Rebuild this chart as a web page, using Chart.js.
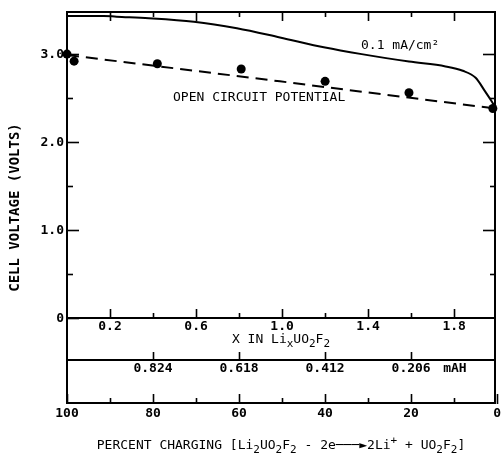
<!DOCTYPE html>
<html>
<head>
<meta charset="utf-8">
<script src="https://cdn.jsdelivr.net/npm/chart.js@4"></script>
<style>
  html, body { margin: 0; background: #fff; }
  canvas { display: block; }
</style>
</head>
<body>
<canvas id="chart" width="501" height="455"></canvas>
<script>
// Values (x in LixUO2F2, volts)
const X_LOAD = [0, 0.17, 0.23, 0.38, 0.59, 0.79, 0.99, 1.20, 1.37, 1.59, 1.76, 1.84, 1.90, 1.94, 1.975, 1.99];
const V_LOAD = [3.445, 3.445, 3.437, 3.42, 3.38, 3.305, 3.20, 3.085, 3.01, 2.925, 2.87, 2.82, 2.74, 2.60, 2.47, 2.41];
const X_OCV = [0, 0.99, 1.99];
const V_OCV = [3.00, 2.70, 2.39];
const X_PTS = [0, 0.033, 0.42, 0.81, 1.20, 1.59, 1.98];
const V_PTS = [3.01, 2.93, 2.90, 2.84, 2.70, 2.57, 2.39];

// Tick values and labels
const X_MAJOR = [0.2, 0.6, 1.0, 1.4, 1.8];
const X_MINOR = [0.4, 0.8, 1.2, 1.6];
const Y_MAJOR = [0, 1, 2, 3];
const Y_LABELS = ['0', '1.0', '2.0', '3.0'];
const Y_MINOR = [0.5, 1.5, 2.5];
const Y_RIGHT = [1, 2, 3];
const MAH_TICKS = [0.824, 0.618, 0.412, 0.206];
const PCT_MAJOR = [100, 80, 60, 40, 20, 0];
const PCT_MINOR = [90, 70, 50, 30, 10];
const MAH_FULL = 1.03;

// Axis geometry
const X_END = 1.99;
const Y_TOP = 3.49;
const Y_BOT = -0.966;
const MAH_AT = -0.481;

const INK = '#000';
const FAMILY = '"DejaVu Sans Mono", monospace';
const FONT = { family: FAMILY, size: 13, weight: 'bold' };

const X_TITLE = [['X IN Li'], ['x', 'sub'], ['UO'], ['2', 'sub'], ['F'], ['2', 'sub']];
const PCT_TITLE = [
  ['PERCENT CHARGING [Li'], ['2', 'sub'], ['UO'], ['2', 'sub'], ['F'], ['2', 'sub'],
  [' - 2e'], ['───►'], ['2Li'], ['+', 'sup'], [' + UO'], ['2', 'sub'], ['F'], ['2', 'sub'], [']'],
];

const noPad = s => { s.paddingLeft = s.paddingRight = s.paddingTop = s.paddingBottom = 0; };

// one axis = one set of tick marks (Chart.js has one tick length per axis)
function ax({ vals, len, line, pad, label, ...rest }) {
  return {
    type: 'linear',
    afterFit: noPad,
    ...rest,
    afterBuildTicks: s => { s.ticks = vals.map(v => ({ value: v })); },
    grid:   { drawOnChartArea: false, tickLength: len, tickWidth: 1.6, tickColor: INK },
    border: { display: !!line, color: INK, width: 2 },
    ticks:  {
      display: !!label, autoSkip: false, maxRotation: 0,
      color: INK, font: FONT, padding: pad || 0,
      callback: label || (v => v),
    },
  };
}

function drawRich(ctx, runs, cx, cy, size, weight) {
  const big = `${weight} ${size}px ${FAMILY}`;
  const small = `${weight} ${Math.round(size * 0.85)}px ${FAMILY}`;
  const fontOf = k => (k ? small : big);
  let w = 0;
  runs.forEach(([t, k]) => { ctx.font = fontOf(k); w += ctx.measureText(t).width; });
  let px = cx - w / 2;
  ctx.textAlign = 'left';
  runs.forEach(([t, k]) => {
    ctx.font = fontOf(k);
    const dy = k === 'sub' ? 4 : k === 'sup' ? -5 : 0;
    ctx.fillText(t, px, cy + dy);
    px += ctx.measureText(t).width;
  });
}

const figureText = {
  id: 'figureText',
  afterDraw(chart) {
    const { ctx, chartArea, scales: { x, y } } = chart;
    ctx.save();
    ctx.fillStyle = INK;
    ctx.textBaseline = 'middle';
    ctx.textAlign = 'left';
    ctx.font = `13px ${FAMILY}`;
    ctx.fillText('0.1 mA/cm²', x.getPixelForValue(1.367), y.getPixelForValue(3.109));
    ctx.fillText('OPEN CIRCUIT POTENTIAL', x.getPixelForValue(0.493), y.getPixelForValue(2.511));
    ctx.font = `bold 13px ${FAMILY}`;
    ctx.fillText('mAH', x.getPixelForValue(1.749), y.getPixelForValue(MAH_AT) + 8);
    const cx = (chartArea.left + chartArea.right) / 2;
    drawRich(ctx, X_TITLE, cx, y.getPixelForValue(0) + 21.5, 13, 'normal');
    drawRich(ctx, PCT_TITLE, cx, chartArea.bottom + 43, 13, 'normal');
    ctx.restore();
  },
};

const pts = (xs, ys) => xs.map((v, i) => ({ x: v, y: ys[i] }));

new Chart(document.getElementById('chart'), {
  type: 'scatter',
  data: {
    datasets: [
      {
        label: '0.1 mA/cm²',
        data: pts(X_LOAD, V_LOAD),
        showLine: true,
        borderColor: INK,
        borderWidth: 2,
        pointRadius: 0,
        cubicInterpolationMode: 'monotone',
        clip: false,
      },
      {
        label: 'Open circuit potential',
        data: pts(X_OCV, V_OCV),
        showLine: true,
        borderColor: INK,
        borderWidth: 2,
        borderDash: [12, 7],
        pointRadius: 0,
      },
      {
        label: 'Measured',
        data: pts(X_PTS, V_PTS),
        showLine: false,
        pointRadius: 4.5,
        pointBackgroundColor: INK,
        pointBorderWidth: 0,
        clip: false,
      },
    ],
  },
  options: {
    responsive: false,
    animation: false,
    devicePixelRatio: 1,
    layout: { padding: { left: 0, right: 6, top: 12, bottom: 52 } },
    plugins: { legend: { display: false }, tooltip: { enabled: false } },
    scales: {
      x:         ax({ axis: 'x', position: { y: 0 }, min: 0, max: X_END, vals: X_MAJOR, len: -10, line: true, pad: 11, label: v => v.toFixed(1) }),
      xMinor:    ax({ axis: 'x', position: { y: 0 }, min: 0, max: X_END, vals: X_MINOR, len: -5 }),
      xTop:      ax({ axis: 'x', position: { y: Y_TOP }, min: 0, max: X_END, vals: X_MAJOR, len: 8, line: true }),
      xTopMinor: ax({ axis: 'x', position: { y: Y_TOP }, min: 0, max: X_END, vals: X_MINOR, len: 5 }),
      mah:       ax({ axis: 'x', position: { y: MAH_AT }, min: MAH_FULL * (1 - X_END / 2), max: MAH_FULL, reverse: true, vals: MAH_TICKS, len: -9, line: true, pad: 9, label: v => v.toFixed(3) }),
      pct:       ax({ axis: 'x', position: { y: Y_BOT }, min: 100 * (1 - X_END / 2), max: 100, reverse: true, vals: PCT_MAJOR, len: -10, line: true, pad: 13, label: v => String(v) }),
      pctMinor:  ax({ axis: 'x', position: { y: Y_BOT }, min: 100 * (1 - X_END / 2), max: 100, reverse: true, vals: PCT_MINOR, len: -5 }),
      y: {
        ...ax({ axis: 'y', position: 'left', min: Y_BOT, max: Y_TOP, vals: Y_MAJOR, len: -12, line: true, pad: 15, label: (v, i) => Y_LABELS[i] }),
        afterFit: s => { noPad(s); s.width = 67; },
        title: {
          display: true,
          text: 'CELL VOLTAGE (VOLTS)',
          color: INK,
          font: { family: FAMILY, size: 14, weight: 'bold' },
          padding: { top: 7, bottom: 0 },
        },
      },
      yMinor:      ax({ axis: 'y', position: { x: 0 }, min: Y_BOT, max: Y_TOP, vals: Y_MINOR, len: -6 }),
      yRight:      ax({ axis: 'y', position: { x: X_END }, min: Y_BOT, max: Y_TOP, vals: Y_RIGHT, len: 11, line: true }),
      yRightMinor: ax({ axis: 'y', position: { x: X_END }, min: Y_BOT, max: Y_TOP, vals: Y_MINOR, len: 5 }),
    },
  },
  plugins: [figureText],
});
</script>
</body>
</html>
